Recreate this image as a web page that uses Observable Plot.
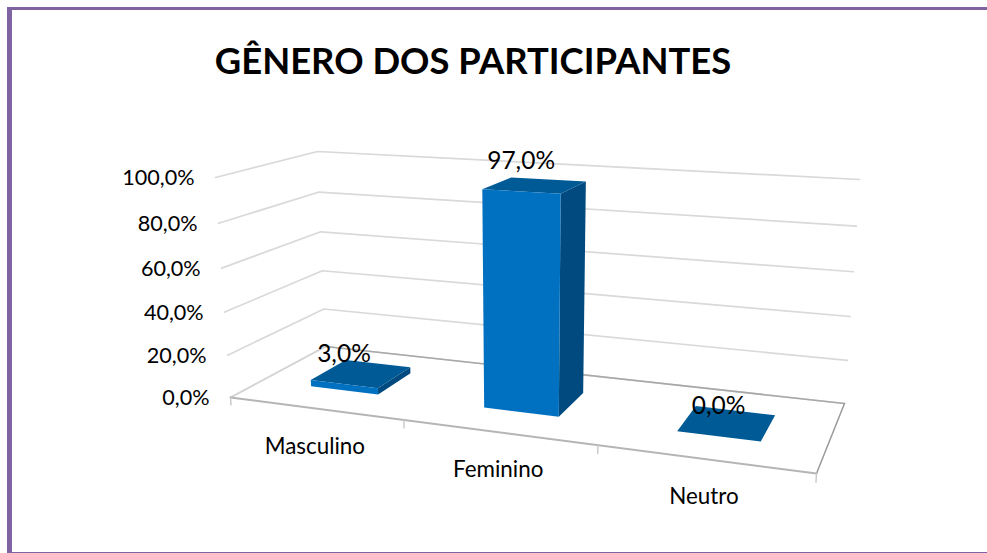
<!DOCTYPE html>
<html><head><meta charset="utf-8">
<script src="https://cdn.jsdelivr.net/npm/d3@7"></script>
<script src="https://cdn.jsdelivr.net/npm/@observablehq/plot@0.6"></script>
<style>
html,body{margin:0;padding:0;background:#fff;overflow:hidden}
#page{position:relative;width:987px;height:553px;overflow:hidden}
#title{height:110px;width:987px;margin:0;padding:42px 0 0;text-align:center;font:700 36.4px/1 Lato,sans-serif;color:#000;box-sizing:border-box;text-indent:-41px}
#chart svg{display:block}
.edge{position:absolute;background:#8064a2}
</style></head>
<body><div id="page">
<div class="edge" style="left:7px;top:7px;width:5px;height:546px"></div>
<div class="edge" style="left:7px;top:7px;width:980px;height:2.5px"></div>
<div class="edge" style="left:7px;top:551.5px;width:980px;height:1.5px"></div>
<h1 id="title">GÊNERO DOS PARTICIPANTES</h1>
<div id="chart"></div>
</div>
<script>
const categories = ["Masculino", "Feminino", "Neutro"];
const values = [3, 97, 0];
const valueLabels = ["3,0%", "97,0%", "0,0%"];
const tickValues = [0, 20, 40, 60, 80, 100];
const tickLabels = ["0,0%", "20,0%", "40,0%", "60,0%", "80,0%", "100,0%"];

// 3D view of the plot box: screen corners of the floor and of the 100% plane
function quad(p0, p1, p2, p3) {
  const dx1 = p1[0]-p2[0], dx2 = p3[0]-p2[0], sx = p0[0]-p1[0]+p2[0]-p3[0];
  const dy1 = p1[1]-p2[1], dy2 = p3[1]-p2[1], sy = p0[1]-p1[1]+p2[1]-p3[1];
  const den = dx1*dy2-dx2*dy1;
  const g = (sx*dy2-dx2*sy)/den, h = (dx1*sy-sx*dy1)/den;
  const a = p1[0]-p0[0]+g*p1[0], b = p3[0]-p0[0]+h*p3[0];
  const d = p1[1]-p0[1]+g*p1[1], e = p3[1]-p0[1]+h*p3[1];
  return (u, v) => {
    const w = g*u+h*v+1;
    return [(a*u+b*v+p0[0])/w, (d*u+e*v+p0[1])/w];
  };
}
const floor = quad([230,397],[816,473],[844,403],[325,346]);
const ceil = quad([215,177],[832,214],[859,179],[317,151]);
function project(u, depth, value) {
  const s = value/100, t = s/(1+0.05*(1-s));
  const f = floor(u, depth), c = ceil(u, depth);
  return {x: f[0]+(c[0]-f[0])*t, y: f[1]+(c[1]-f[1])*t};
}
// the columns lean slightly less than the walls
function projectBar(u, depth, value) {
  const p = project(u, depth, value);
  return {x: p.x-0.035*value, y: p.y};
}

const n = categories.length;
const gridRows = tickValues.flatMap(v => [[0,0],[0,1],[1,1]].map(([u,d]) => ({key:v, ...project(u,d,v)})));
const lineOf = (key, pts, f = project) => pts.map(([u,d,v]) => ({key, ...f(u,d,v)}));
const tickU = d3.range(n+1).map(i => i/n);
const tickRows = tickU.flatMap(u => lineOf(u, [[u,0,0],[u,0,-3.6]]));

const D0 = 0.31, D1 = 0.70, A = 0.3, B = 0.7;
const faceColors = {side:"#004a7f", top:"#005a96", front:"#0070c0"};
const faces = values.flatMap((v,i) => {
  const u0 = (i+A)/n, u1 = (i+B)/n;
  const poly = (face, pts) => lineOf(`${i}-${face}`, pts, projectBar).map(r => ({...r, fill: faceColors[face]}));
  return [
    poly("side", [[u1,D0,0],[u1,D1,0],[u1,D1,v],[u1,D0,v]]),
    poly("top", [[u0,D0,v],[u1,D0,v],[u1,D1,v],[u0,D1,v]]),
    poly("front", [[u0,D0,0],[u1,D0,0],[u1,D0,v],[u0,D0,v]])
  ].flat();
});

const yLabelRows = tickValues.map((v,i) => ({text: tickLabels[i], ...project(0,0,v)}));
const catRows = categories.map((c,i) => ({text:c, ...project((i+0.5)/n,0,0)}));
const valRows = values.map((v,i) => ({text: valueLabels[i], ...projectBar((i+0.5)/n,D0,v)}));

const chart = Plot.plot({
  width: 987, height: 443, margin: 0,
  style: {background:"transparent", fontFamily:"Lato, sans-serif", color:"#000"},
  x: {domain:[0,987], range:[0,987], axis:null},
  y: {domain:[110,553], range:[0,443], axis:null},
  marks: [
    Plot.line(gridRows, {x:"x", y:"y", z:"key", stroke:"#d9d9d9", strokeWidth:1.7, curve:"linear"}),
    Plot.line(lineOf("l",[[0,0,0],[0,1,0]]), {x:"x", y:"y", stroke:"#d4d4d4", strokeWidth:1.6}),
    Plot.line(lineOf("b",[[0,1,0],[1,1,0]]), {x:"x", y:"y", stroke:"#a8a8a8", strokeWidth:1.6}),
    Plot.line(lineOf("r",[[1,1,0],[1,0,0]]), {x:"x", y:"y", stroke:"#9a9a9a", strokeWidth:1.5}),
    Plot.line(lineOf("f",[[0,0,0],[1,0,0]]), {x:"x", y:"y", stroke:"#b5b5b5", strokeWidth:2}),
    Plot.line(tickRows, {x:"x", y:"y", z:"key", stroke:"#c8c8c8", strokeWidth:1.4}),
    Plot.line(faces, {x:"x", y:"y", z:"key", fill:"fill", stroke:"none"}),
    Plot.text(yLabelRows, {x:"x", y:"y", text:"text", textAnchor:"end", dx:-21, dy:1, fontSize:21.6, fill:"#000"}),
    Plot.text(catRows, {x:"x", y:"y", text:"text", dx:0, dy:38, fontSize:22.4, fill:"#000"}),
    Plot.text(valRows, {x:"x", y:"y", text:"text", dx:0, dy:-30, fontSize:24.5, fill:"#000"})
  ]
});
document.getElementById("chart").appendChild(chart);
</script>
</body></html>
